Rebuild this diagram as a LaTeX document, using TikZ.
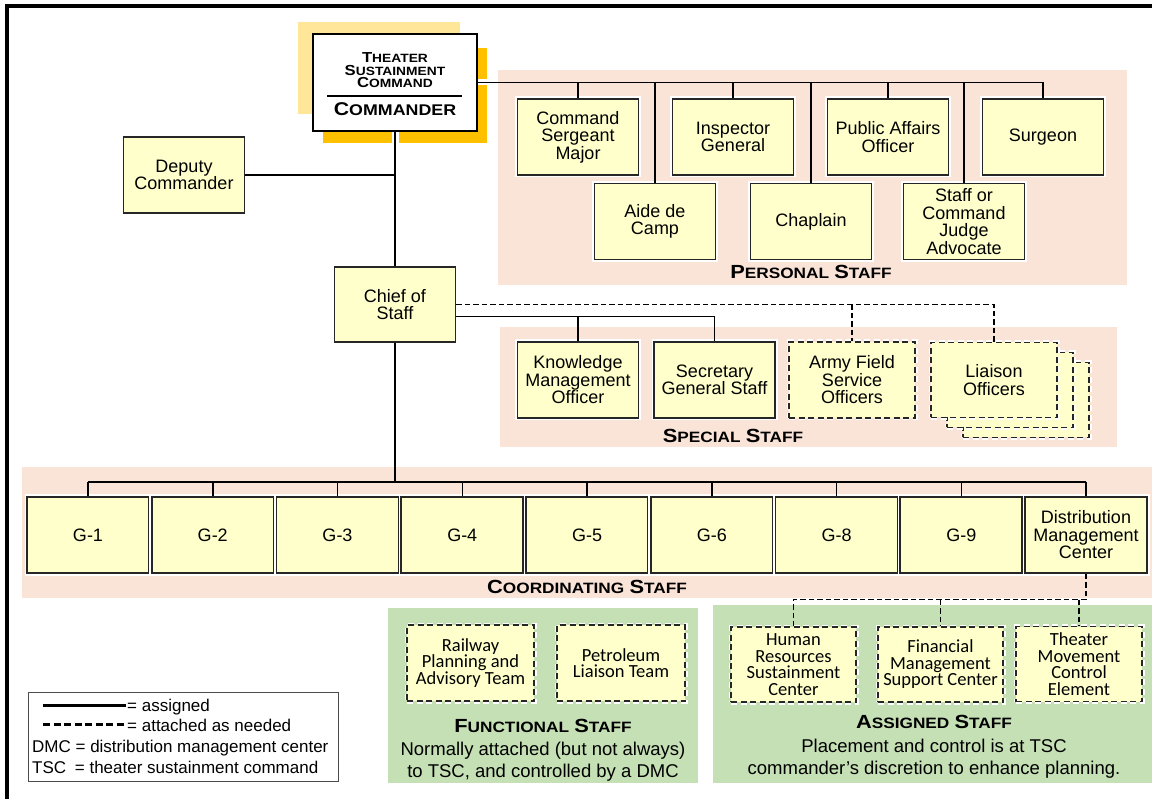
\documentclass[tikz,border=0pt]{standalone}
\usepackage{fontspec}
\setmainfont{Liberation Sans}
\newfontfamily\headfont[FakeStretch=1.15]{Liberation Sans}
\newfontfamily\calibrifont{Carlito}
\definecolor{boxfill}{RGB}{255,255,204}
\definecolor{boxline}{RGB}{38,38,38}
\definecolor{peach}{RGB}{250,228,216}
\definecolor{sage}{RGB}{197,224,180}
\definecolor{gold}{RGB}{255,192,0}
\definecolor{paleGold}{RGB}{255,230,153}
% fake small caps: first letter large, rest smaller
\newcommand\capword[4]{{\fontsize{#1}{#1}\selectfont #3}{\fontsize{#2}{#2}\selectfont #4}}
\newcommand\grouptitle[2]{\capword{19}{15}{#1}{#2}}
\tikzset{
  staffbox/.style={draw=boxline, line width=1.6pt, fill=boxfill,
    minimum width=121pt, minimum height=76pt, inner sep=1pt, align=center,
    font=\fontsize{18}{17.5}\selectfont},
  glow/.style={preaction={draw=white, line width=5pt}},
  dashbox/.style={staffbox, glow, dash pattern=on 6pt off 3.5pt},
  calbox/.style={dashbox, font=\calibrifont\fontsize{18.5}{16.5}\selectfont},
  conn/.style={line width=1.5pt, black},
  dconn/.style={conn, dash pattern=on 5.5pt off 3pt},
  grouplbl/.style={font=\headfont\bfseries, inner sep=0pt},
  desc/.style={align=center, font=\fontsize{18.5}{22}\selectfont, inner sep=0pt},
  legtxt/.style={anchor=base west, font=\fontsize{17}{17}\selectfont, inner sep=0pt},
}
\begin{document}
\begin{tikzpicture}[x=1pt,y=-1pt]
\useasboundingbox (0,0) rectangle (1152,799);
\fill[white] (0,0) rectangle (1152,799);

% outer frame (top and left)
\draw[line width=3.2pt] (7,799) -- (7,6) -- (1152,6);

% group backgrounds
\fill[peach] (498,70) rectangle (1127,285);
\fill[peach] (500,327) rectangle (1117,447);
\fill[peach] (22,467) rectangle (1152,598);
\fill[sage] (388,608) rectangle (698,783);
\fill[sage] (713,605) rectangle (1152,783);

% commander with layered shadow
\fill[paleGold] (298,22) rectangle (460,114);
\fill[gold] (323,48) rectangle (487,143);
\node[draw=black, line width=1.8pt, fill=white, minimum width=164pt,
  minimum height=97pt] (cmd) at (395,82.5) {};
\node[grouplbl, align=center, font=\headfont\bfseries\fontsize{14.5}{12.3}\selectfont,
  anchor=base] (cmdtitle) at (395,87.5)
  {\capword{14.5}{12}{T}{HEATER}\\\capword{14.5}{12}{S}{USTAINMENT}\\\capword{14.5}{12}{C}{OMMAND}};
\draw[line width=1.3pt] (327,96) -- (462,96);
\node[grouplbl, anchor=base] (cmdrank) at (395,115.5) {\capword{18.5}{15.5}{C}{OMMANDER}};
\draw[white, line width=7pt] (cmd.south) -- ++(0,13);
\draw[white, line width=6pt] (cmd.east) -- ++(12,0);

% deputy and chief of staff
\node[staffbox] (dep) at (184,175) {Deputy\\Commander};
\node[staffbox, minimum height=75pt] (cos) at (395,304.5) {Chief of\\Staff};

% personal staff
\node[staffbox, glow] (csm) at (578,137) {Command\\Sergeant\\Major};
\node[staffbox, glow] (ig) at (733,137) {Inspector\\General};
\node[staffbox, glow] (pao) at (888,137) {Public Affairs\\Officer};
\node[staffbox, glow] (surg) at (1043,137) {Surgeon};
\node[staffbox, glow] (adc) at (655,221.5) {Aide de\\Camp};
\node[staffbox, glow] (chap) at (811,221.5) {Chaplain};
\node[staffbox, glow] (sja) at (964,221.5) {Staff or\\Command\\Judge\\Advocate};
\node[grouplbl] (lblpers) at (811,272) {\grouptitle{P}{ERSONAL}\hspace{2pt} \grouptitle{S}{TAFF}};

% special staff
\node[staffbox, glow] (kmo) at (578,380) {Knowledge\\Management\\Officer};
\node[staffbox, glow] (sgs) at (714.5,380) {Secretary\\General Staff};
\node[dashbox, minimum width=126pt] (afso) at (852,380) {Army Field\\Service\\Officers};
\node[dashbox, minimum width=126pt, minimum height=75pt] (lnoc) at (1026,400) {};
\node[dashbox, minimum width=126pt, minimum height=75pt] (lnob) at (1010,390) {};
\node[dashbox, minimum width=126pt, minimum height=75pt] (lno) at (994,380) {Liaison\\Officers};
\node[grouplbl] (lblspec) at (733,436) {\grouptitle{S}{PECIAL}\hspace{2pt} \grouptitle{S}{TAFF}};

% coordinating staff
\foreach \nm/\txt [count=\i from 0] in {g1/G-1,g2/G-2,g3/G-3,g4/G-4,g5/G-5,g6/G-6,g8/G-8,g9/G-9}
  \node[staffbox, glow, minimum width=122pt] (\nm) at (88+124.75*\i,535) {\txt};
\node[staffbox, glow, minimum width=122pt] (dmc) at (1086,535) {Distribution\\Management\\Center};
\node[grouplbl] (lblcoord) at (587,587) {\grouptitle{C}{OORDINATING}\hspace{2pt} \grouptitle{S}{TAFF}};

% functional staff
\node[calbox, minimum width=127pt] (rpat) at (470.5,663) {Railway\\Planning and\\Advisory Team};
\node[calbox, minimum width=128pt] (plt) at (621,663) {Petroleum\\Liaison Team};
\node[grouplbl] (lblfunc) at (543,726) {\grouptitle{F}{UNCTIONAL}\hspace{2pt} \grouptitle{S}{TAFF}};
\node[desc] (descfunc) at (543,762) {Normally attached (but not always)\\to TSC, and controlled by a DMC};

% assigned staff
\node[calbox, minimum width=125pt, minimum height=75pt] (hrsc) at (793.5,664.5) {Human\\Resources\\Sustainment\\Center};
\node[calbox, minimum width=125pt, minimum height=75pt] (fmsc) at (940.5,664.5) {Financial\\Management\\Support Center};
\node[calbox, minimum width=126pt, minimum height=75pt] (tmce) at (1079,664) {Theater\\Movement\\Control\\Element};
\node[grouplbl] (lblassg) at (934,722) {\grouptitle{A}{SSIGNED}\hspace{2pt} \grouptitle{S}{TAFF}};
\node[desc] (descassg) at (934,759) {Placement and control is at TSC\\commander’s discretion to enhance planning.};

% command line
\draw[conn] (cmd.south) -- (cos.north);
\draw[conn] (dep.east) -- (dep.east -| cmd.south);
\coordinate (cbus) at (395,482);
\draw[conn] (cos.south) -- (cbus);

% personal staff bus
\draw[conn] (cmd.east) -- (surg.north |- cmd.east) -- (surg.north);
\foreach \b in {csm,ig,pao,adc,chap,sja}
  \draw[conn] (\b.north |- cmd.east) -- (\b.north);

% special staff buses
\coordinate (sbus) at ([yshift=-12pt]cos.east);
\draw[conn] (sbus) -- (sgs.north |- sbus) -- (sgs.north);
\draw[conn] (kmo.north |- sbus) -- (kmo.north);
\draw[dconn] (cos.east) -- (lno.north |- cos.east) -- (lno.north);
\draw[dconn] (afso.north |- cos.east) -- (afso.north);

% coordinating staff bus
\draw[conn] (g1.north |- cbus) -- (dmc.north |- cbus);
\foreach \b in {g1,g2,g3,g4,g5,g6,g8,g9,dmc}
  \draw[conn] (\b.north |- cbus) -- (\b.north);

% assigned staff under the DMC
\coordinate (abus) at (1086,599.5);
\draw[dconn] (dmc.south) -- (abus) -- (hrsc.north |- abus) -- (hrsc.north);
\draw[dconn] (fmsc.north |- abus) -- (fmsc.north);
\draw[dconn] (tmce.north |- abus) -- (tmce.north);

% legend
\node[draw=black!70, line width=1pt, minimum width=310pt, minimum height=89pt, inner sep=0pt] (legend) at (183,736.5) {};
\draw[line width=3pt] (43,705) -- (126,705);
\draw[line width=3pt, dash pattern=on 7pt off 3.5pt] (43,724) -- (124,724);
\node[legtxt] (leg1) at (127,711) {= assigned};
\node[legtxt] (leg2) at (127,731) {= attached as needed};
\node[legtxt] (leg3) at (32,752) {DMC = distribution management center};
\node[legtxt] (leg4) at (32,773) {TSC\hspace{4pt} = theater sustainment command};
\end{tikzpicture}
\end{document}
